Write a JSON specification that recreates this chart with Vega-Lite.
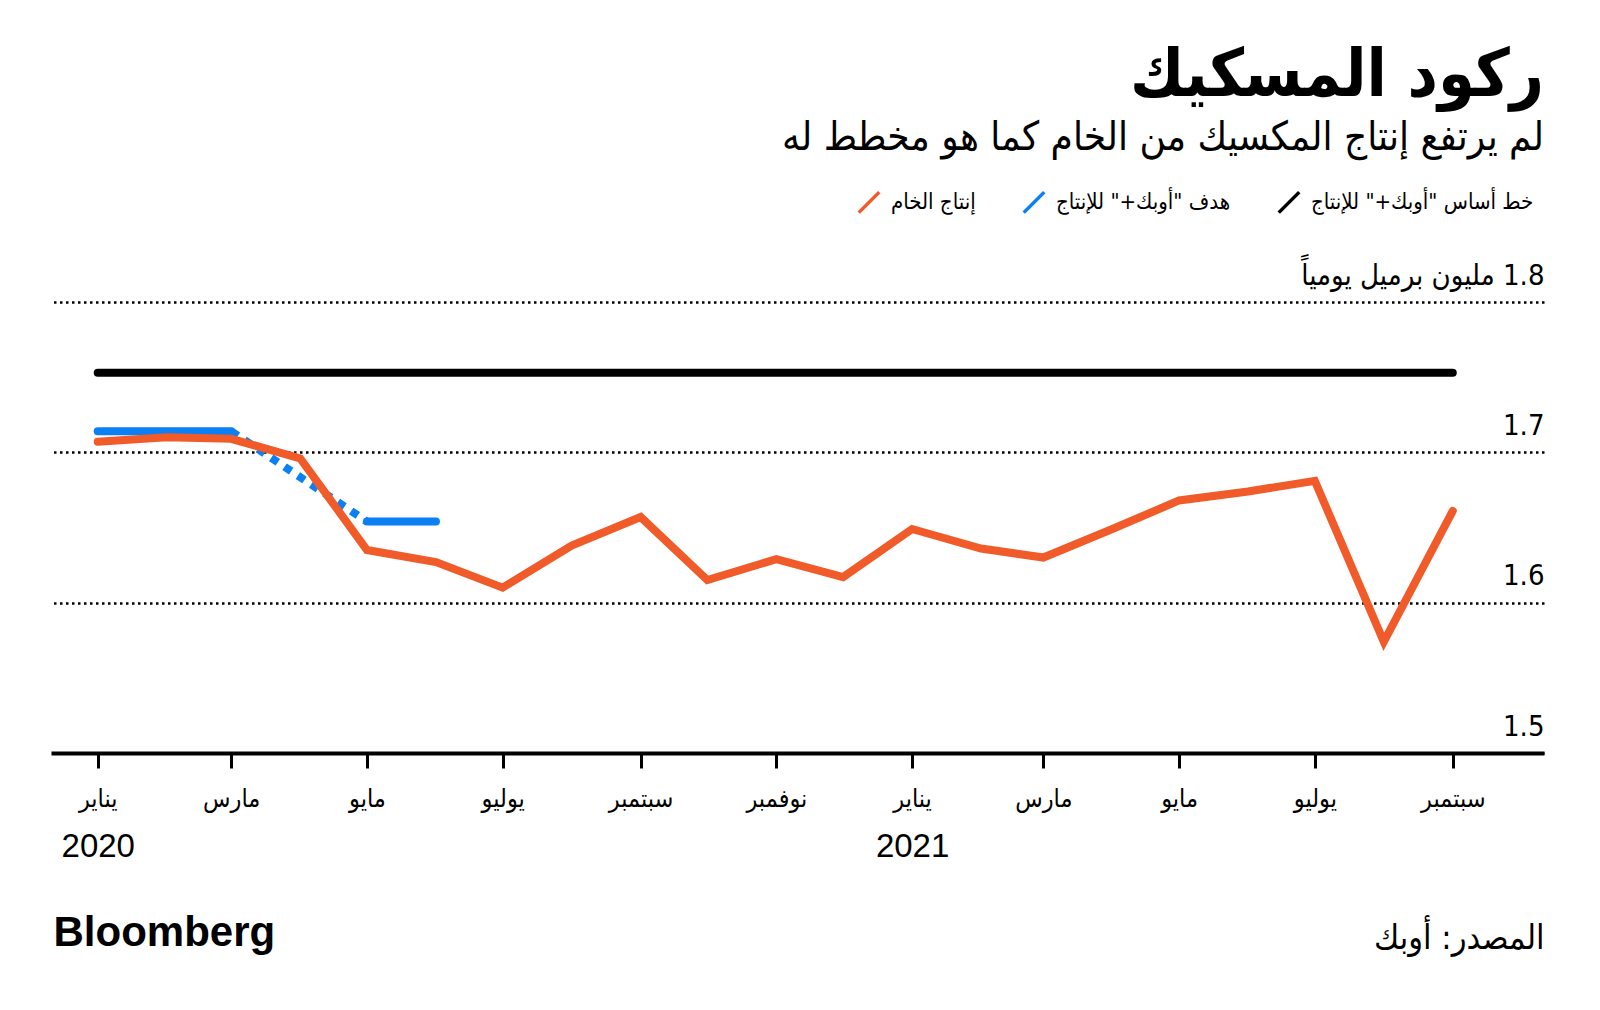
{
  "$schema": "https://vega.github.io/schema/vega-lite/v6.json",
  "width": 1493,
  "height": 451,
  "autosize": {"type": "none"},
  "padding": {"top": 302, "left": 51, "right": 56, "bottom": 257},
  "background": "white",
  "title": {
    "text": "ركود المسكيك",
    "subtitle": "لم يرتفع إنتاج المكسيك من الخام كما هو مخطط له",
    "anchor": "end",
    "frame": "group",
    "orient": "top",
    "font": "DejaVu Sans Condensed, DejaVu Sans",
    "fontSize": 66,
    "fontWeight": "bold",
    "color": "#000000",
    "subtitleFont": "DejaVu Sans Condensed, DejaVu Sans",
    "subtitleFontSize": 40,
    "subtitleColor": "#000000",
    "subtitlePadding": 8,
    "offset": 31
  },
  "data": {
    "values": [
      {"date": "2020-01-01", "series": "baseline", "seg": "a", "value": 1.753},
      {"date": "2021-09-01", "series": "baseline", "seg": "a", "value": 1.753},
      {"date": "2020-01-01", "series": "target", "seg": "a", "value": 1.714},
      {"date": "2020-02-01", "series": "target", "seg": "a", "value": 1.714},
      {"date": "2020-03-01", "series": "target", "seg": "a", "value": 1.714},
      {"date": "2020-03-01", "series": "target", "seg": "dotted", "value": 1.714},
      {"date": "2020-05-01", "series": "target", "seg": "dotted", "value": 1.654},
      {"date": "2020-05-01", "series": "target", "seg": "b", "value": 1.654},
      {"date": "2020-06-01", "series": "target", "seg": "b", "value": 1.654},
      {"date": "2020-01-01", "series": "crude", "seg": "a", "value": 1.707},
      {"date": "2020-02-01", "series": "crude", "seg": "a", "value": 1.710},
      {"date": "2020-03-01", "series": "crude", "seg": "a", "value": 1.709},
      {"date": "2020-04-01", "series": "crude", "seg": "a", "value": 1.696},
      {"date": "2020-05-01", "series": "crude", "seg": "a", "value": 1.635},
      {"date": "2020-06-01", "series": "crude", "seg": "a", "value": 1.627},
      {"date": "2020-07-01", "series": "crude", "seg": "a", "value": 1.610},
      {"date": "2020-08-01", "series": "crude", "seg": "a", "value": 1.638},
      {"date": "2020-09-01", "series": "crude", "seg": "a", "value": 1.657},
      {"date": "2020-10-01", "series": "crude", "seg": "a", "value": 1.615},
      {"date": "2020-11-01", "series": "crude", "seg": "a", "value": 1.629},
      {"date": "2020-12-01", "series": "crude", "seg": "a", "value": 1.617},
      {"date": "2021-01-01", "series": "crude", "seg": "a", "value": 1.649},
      {"date": "2021-02-01", "series": "crude", "seg": "a", "value": 1.636},
      {"date": "2021-03-01", "series": "crude", "seg": "a", "value": 1.630},
      {"date": "2021-04-01", "series": "crude", "seg": "a", "value": 1.649},
      {"date": "2021-05-01", "series": "crude", "seg": "a", "value": 1.668},
      {"date": "2021-06-01", "series": "crude", "seg": "a", "value": 1.674},
      {"date": "2021-07-01", "series": "crude", "seg": "a", "value": 1.681},
      {"date": "2021-08-01", "series": "crude", "seg": "a", "value": 1.574},
      {"date": "2021-09-01", "series": "crude", "seg": "a", "value": 1.661}
    ]
  },
  "encoding": {
    "y": {
      "field": "value",
      "type": "quantitative",
      "scale": {"domain": [1.5, 1.8], "nice": false, "zero": false},
      "axis": {
        "orient": "right",
        "values": [1.5, 1.6, 1.7, 1.8],
        "format": ".1f",
        "labelExpr": "datum.value == 1.8 ? '\u202B1.8 مليون برميل يومياً\u202C' : datum.label",
        "title": null,
        "domain": false,
        "ticks": false,
        "grid": true,
        "gridColor": "#000000",
        "gridDash": [2.5, 3.5],
        "gridWidth": 2.5,
        "labelAlign": "right",
        "labelBaseline": "alphabetic",
        "labelPadding": 0,
        "labelOffset": -18,
        "labelLimit": 0,
        "labelFont": "Liberation Sans Narrow, DejaVu Sans Condensed, DejaVu Sans",
        "labelFontSize": 29,
        "labelColor": "#000000"
      }
    },
    "color": {
      "field": "series",
      "type": "nominal",
      "scale": {
        "domain": ["crude", "target", "baseline"],
        "range": ["#f15a29", "#0b7ff4", "#000000"]
      },
      "legend": {
        "orient": "none",
        "legendX": 806,
        "legendY": -112,
        "direction": "horizontal",
        "title": null,
        "labelExpr": "datum.value == 'crude' ? 'إنتاج الخام' : datum.value == 'target' ? '\u202Bهدف \"أوبك+\" للإنتاج\u202C' : '\u202Bخط أساس \"أوبك+\" للإنتاج\u202C'",
        "labelFont": "DejaVu Sans Condensed, DejaVu Sans",
        "labelFontSize": 22,
        "labelColor": "#000000",
        "labelLimit": 0,
        "labelOffset": 10,
        "symbolType": "M-1,1L1,-1",
        "symbolSize": 420,
        "symbolStrokeWidth": 3.5,
        "columnPadding": 40
      }
    }
  },
  "layer": [
    {
      "transform": [{"filter": "datum.series == 'baseline'"}],
      "mark": {"type": "line", "strokeWidth": 8, "strokeCap": "round"},
      "encoding": {
        "x": {
          "field": "date",
          "type": "temporal",
          "scale": {
            "type": "utc",
            "domain": [
              {"year": 2019, "month": 12, "date": 11, "utc": true},
              {"year": 2021, "month": 10, "date": 12, "utc": true}
            ]
          },
          "axis": {
            "orient": "bottom",
            "values": [
              {"year": 2020, "month": 1, "date": 1, "utc": true},
              {"year": 2021, "month": 1, "date": 1, "utc": true}
            ],
            "labelExpr": "'' + utcyear(datum.value)",
            "title": "Bloomberg",
            "titleAnchor": "start",
            "titleAlign": "left",
            "titleX": 2,
            "titleY": 192,
            "titleBaseline": "alphabetic",
            "titleFont": "Liberation Sans, Arial",
            "titleFontWeight": "bold",
            "titleFontSize": 42,
            "titleColor": "#000000",
            "domain": false,
            "ticks": false,
            "tickSize": 0,
            "grid": false,
            "labelPadding": 77,
            "labelBaseline": "top",
            "labelLimit": 0,
            "labelFont": "Liberation Sans Narrow, Liberation Sans",
            "labelFontSize": 33,
            "labelColor": "#000000"
          }
        }
      }
    },
    {
      "transform": [{"filter": "datum.series == 'target' && datum.seg != 'dotted'"}],
      "mark": {"type": "line", "strokeWidth": 8, "strokeCap": "round"},
      "encoding": {
        "x": {"field": "date", "type": "temporal", "axis": null},
        "detail": {"field": "seg"}
      }
    },
    {
      "transform": [{"filter": "datum.series == 'target' && datum.seg == 'dotted'"}],
      "mark": {"type": "line", "strokeWidth": 8, "strokeCap": "butt", "strokeDash": [8, 8]},
      "encoding": {
        "x": {"field": "date", "type": "temporal", "axis": null}
      }
    },
    {
      "transform": [{"filter": "datum.series == 'crude'"}],
      "mark": {"type": "line", "strokeWidth": 8, "strokeCap": "round", "strokeJoin": "miter"},
      "encoding": {
        "x": {
          "field": "date",
          "type": "temporal",
          "axis": {
            "orient": "bottom",
            "values": [
              {"year": 2020, "month": 1, "date": 1, "utc": true},
              {"year": 2020, "month": 3, "date": 1, "utc": true},
              {"year": 2020, "month": 5, "date": 1, "utc": true},
              {"year": 2020, "month": 7, "date": 1, "utc": true},
              {"year": 2020, "month": 9, "date": 1, "utc": true},
              {"year": 2020, "month": 11, "date": 1, "utc": true},
              {"year": 2021, "month": 1, "date": 1, "utc": true},
              {"year": 2021, "month": 3, "date": 1, "utc": true},
              {"year": 2021, "month": 5, "date": 1, "utc": true},
              {"year": 2021, "month": 7, "date": 1, "utc": true},
              {"year": 2021, "month": 9, "date": 1, "utc": true}
            ],
            "labelExpr": "['يناير','فبراير','مارس','أبريل','مايو','يونيو','يوليو','أغسطس','سبتمبر','أكتوبر','نوفمبر','ديسمبر'][utcmonth(datum.value)]",
            "title": "المصدر: أوبك",
            "titleAnchor": "end",
            "titleAlign": "right",
            "titleY": 195,
            "titleBaseline": "alphabetic",
            "titleFont": "DejaVu Sans Condensed, DejaVu Sans",
            "titleFontWeight": "normal",
            "titleFontSize": 34,
            "titleColor": "#000000",
            "domain": true,
            "domainColor": "#000000",
            "domainWidth": 4,
            "ticks": true,
            "tickColor": "#000000",
            "tickWidth": 3,
            "tickSize": 15,
            "grid": false,
            "labelPadding": 18,
            "labelBaseline": "top",
            "labelLimit": 0,
            "labelFont": "DejaVu Sans Condensed, DejaVu Sans",
            "labelFontSize": 25,
            "labelColor": "#000000"
          }
        }
      }
    }
  ],
  "resolve": {"axis": {"x": "independent"}},
  "config": {
    "view": {"stroke": null},
    "axis": {"labelOverlap": false, "labelFlush": false}
  }
}
